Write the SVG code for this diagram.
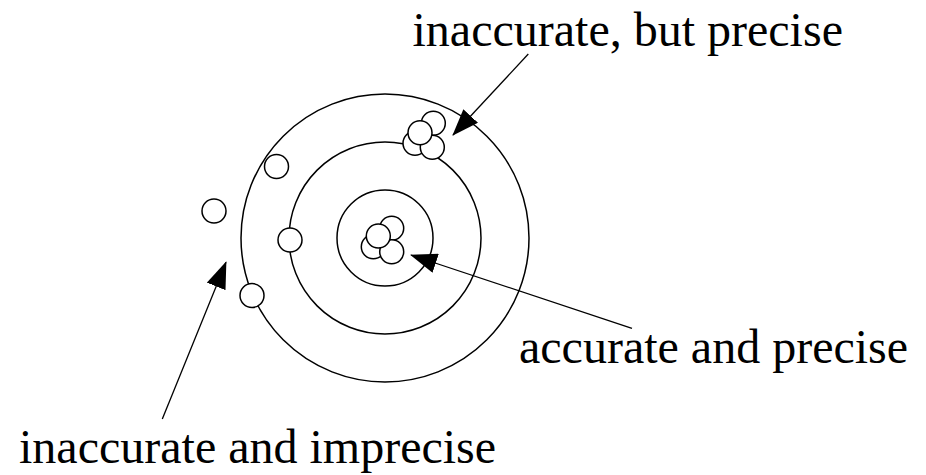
<svg xmlns="http://www.w3.org/2000/svg" width="926" height="475" viewBox="0 0 926 475">
<style>
.ring{fill:none;stroke:#000;stroke-width:1.5}
.dot{fill:#fff;stroke:#000;stroke-width:1.5}
.conn{stroke:#000;stroke-width:1.3;fill:none}
.lbl{font-family:"Liberation Serif","Times New Roman",serif;font-size:48px;fill:#000}
</style>
<defs>
<marker id="arr" markerUnits="userSpaceOnUse" viewBox="0 -10 27 20" markerWidth="27" markerHeight="20" refX="26" refY="0" orient="auto">
<path d="M0,-10 L27,0 L0,10 z" fill="#000"/>
</marker>
</defs>
<rect width="926" height="475" fill="#fff"/>
<g id="target">
<circle class="ring" cx="385" cy="238" r="144"/>
<circle class="ring" cx="385" cy="238" r="96"/>
<circle class="ring" cx="385" cy="238" r="48"/>
</g>
<g id="scattered">
<circle class="dot" cx="214" cy="211" r="12"/>
<circle class="dot" cx="276.5" cy="166.5" r="12"/>
<circle class="dot" cx="290" cy="240" r="12"/>
<circle class="dot" cx="252" cy="295.5" r="12"/>
</g>
<g id="cluster-top">
<circle class="dot" cx="433.3" cy="123.3" r="12"/>
<circle class="dot" cx="415" cy="143.3" r="12"/>
<circle class="dot" cx="432.3" cy="147.3" r="12"/>
<circle class="dot" cx="420" cy="132.7" r="12"/>
</g>
<g id="cluster-center">
<circle class="dot" cx="391.7" cy="228.3" r="12"/>
<circle class="dot" cx="373.3" cy="246.7" r="12"/>
<circle class="dot" cx="391.7" cy="251.7" r="12"/>
<circle class="dot" cx="378.3" cy="236" r="12"/>
</g>
<g id="connectors">
<line class="conn" x1="528.3" y1="54" x2="453" y2="135" marker-end="url(#arr)"/>
<line class="conn" x1="632" y1="328.3" x2="411" y2="255" marker-end="url(#arr)"/>
<line class="conn" x1="162.3" y1="419" x2="226" y2="262.3" marker-end="url(#arr)"/>
</g>
<g id="labels">
<text class="lbl" x="412.5" y="46">inaccurate, but precise</text>
<text class="lbl" x="519" y="363">accurate and precise</text>
<text class="lbl" x="19" y="463">inaccurate and imprecise</text>
</g>
</svg>
